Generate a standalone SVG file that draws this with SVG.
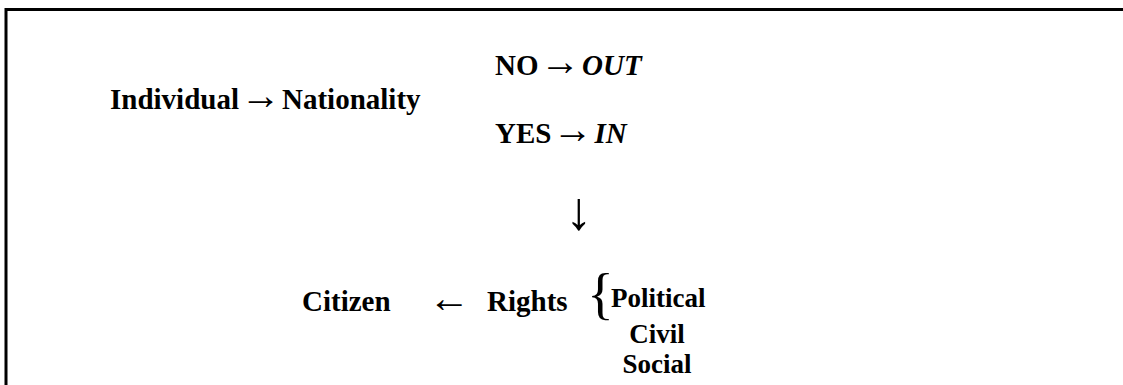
<svg xmlns="http://www.w3.org/2000/svg" width="1123" height="385" viewBox="0 0 1123 385">
<style>
.t{font-family:"Liberation Serif","Times New Roman",serif;font-weight:bold;font-size:29px;fill:#000}
.s{font-size:27px}
.a{font-family:"Liberation Serif","Times New Roman",serif;font-weight:normal;fill:#000}
.ia{font-size:40px;font-weight:normal}
.i{font-style:italic}
</style>
<rect width="1123" height="385" fill="#fff"/>
<path d="M6,385 V9.5 H1123" fill="none" stroke="#000" stroke-width="3"/>
<g id="individual"><text class="t" y="109"><tspan x="110">Individual</tspan><tspan class="ia" x="240.5">→</tspan><tspan x="282">Nationality</tspan></text></g>
<g id="no"><text class="t" y="75"><tspan x="495">NO</tspan><tspan class="ia" x="540">→</tspan><tspan class="i" x="582">OUT</tspan></text></g>
<g id="yes"><text class="t" y="143"><tspan x="495">YES</tspan><tspan class="ia" x="552.5">→</tspan><tspan class="i" x="594.5">IN</tspan></text></g>
<g id="connectors">
<text class="a" x="579" y="229" text-anchor="middle" style="font-size:54px">↓</text>
<text class="a" x="449" y="312" text-anchor="middle" style="font-size:42px">←</text>
</g>
<g id="citizen"><text class="t" x="302" y="311">Citizen</text></g>
<g id="rights"><text class="t" x="487" y="311">Rights</text>
<text class="a" x="600.5" y="313" text-anchor="middle" style="font-size:56px">{</text></g>
<g id="types">
<text class="t s" x="611" y="307">Political</text>
<text class="t s" x="657" y="343" text-anchor="middle">Civil</text>
<text class="t s" x="657" y="373" text-anchor="middle">Social</text>
</g>
</svg>
